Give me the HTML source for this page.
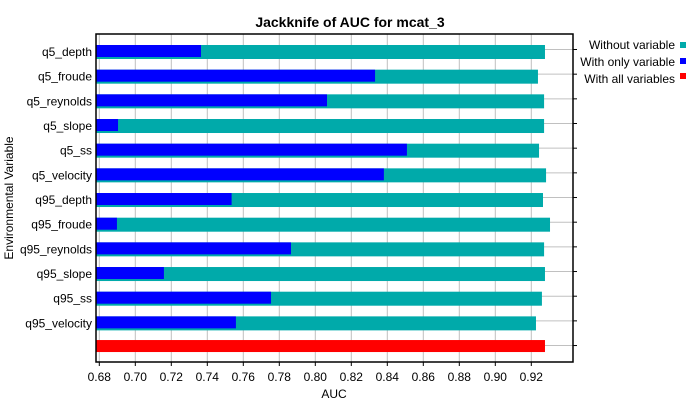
<!DOCTYPE html>
<html><head><meta charset="utf-8"><style>
body{margin:0;background:#fff;font-family:"Liberation Sans",Arial,sans-serif;}
svg text{font-family:"Liberation Sans",Arial,sans-serif;}
</style></head><body>
<svg id="chart" width="700" height="402" xmlns="http://www.w3.org/2000/svg">
<text x="350" y="27" text-anchor="middle" font-size="14" font-weight="bold">Jackknife of AUC for mcat_3</text>
<g id="grid"></g><g id="bars"></g><g id="axes"></g>
<text x="334" y="398" text-anchor="middle" font-size="12">AUC</text>
<text transform="translate(13,198) rotate(-90)" text-anchor="middle" font-size="12">Environmental Variable</text>
<g>
<text x="675" y="49" text-anchor="end" font-size="12">Without variable</text>
<rect x="680" y="42" width="6" height="6" fill="#00aaaa"/>
<text x="675" y="66" text-anchor="end" font-size="12">With only variable</text>
<rect x="680" y="58" width="6" height="6" fill="#0000ff"/>
<text x="675" y="83" text-anchor="end" font-size="12">With all variables</text>
<rect x="680" y="73" width="6" height="6" fill="#ff0000"/>
</g>
</svg>
<script>
const categories=["q5_depth","q5_froude","q5_reynolds","q5_slope","q5_ss","q5_velocity","q95_depth","q95_froude","q95_reynolds","q95_slope","q95_ss","q95_velocity"];
const withoutVals=[0.9276,0.9237,0.9271,0.9271,0.9243,0.9282,0.9265,0.9304,0.9271,0.9276,0.9259,0.9226];
const onlyVals=[0.7365,0.8332,0.8065,0.6904,0.8509,0.8381,0.7535,0.6898,0.7865,0.7159,0.7754,0.7559];
const allVal=[0.9276];
const ticks=[0.68,0.70,0.72,0.74,0.76,0.78,0.80,0.82,0.84,0.86,0.88,0.90,0.92];
const NS="http://www.w3.org/2000/svg";
const L=96,R=573,T=34,B=362;
const x=v=>99.3+(v-0.68)*1800;
const rowTop=i=>45+24.67*i;
function mk(tag,attrs,parent,txt){const e=document.createElementNS(NS,tag);for(const k in attrs)e.setAttribute(k,attrs[k]);if(txt!=null)e.textContent=txt;parent.appendChild(e);return e;}
const grid=document.getElementById('grid'),bars=document.getElementById('bars'),axes=document.getElementById('axes');
ticks.forEach(t=>{
 const g=mk('line',{x1:x(t),x2:x(t),y1:T,y2:B,stroke:'#c0c0c0','stroke-width':1},grid);
 
 
 const tk=mk('line',{x1:x(t),x2:x(t),y1:B,y2:B+4,stroke:'#000'},axes);
 
 
 const lb=mk('text',{x:x(t),y:B+19,'text-anchor':'middle','font-size':12},axes,t.toFixed(2));
 
 
});
const rows=categories.length+1;
for(let i=0;i<rows;i++){
 const gy=rowTop(i)+4.5;
 const gl=mk('line',{x1:L,x2:R,y1:gy,y2:gy,stroke:'#c0c0c0'},grid);
 
 
 const rt=mk('line',{x1:R,x2:R+4,y1:gy,y2:gy,stroke:'#000'},axes);
 
 
}
categories.forEach((c,i)=>{
 const y0=rowTop(i);
 const a=mk('rect',{x:L,y:y0,width:x(withoutVals[i])-L,height:14,fill:'#00aaaa'},bars);
 
 
 const b=mk('rect',{x:L,y:y0,width:x(onlyVals[i])-L,height:12,fill:'#0000ff'},bars);
 
 
 const lb=mk('text',{x:92,y:y0+11,'text-anchor':'end','font-size':12},axes,c);
 
 
});
const ry=rowTop(categories.length)-1;
const red=mk('rect',{x:L,y:ry,width:x(allVal[0])-L,height:12,fill:'#ff0000'},bars);


const frame=mk('rect',{x:L,y:T,width:R-L,height:B-T,fill:'none',stroke:'#000','stroke-width':1.5},axes);


</script>
</body></html>
